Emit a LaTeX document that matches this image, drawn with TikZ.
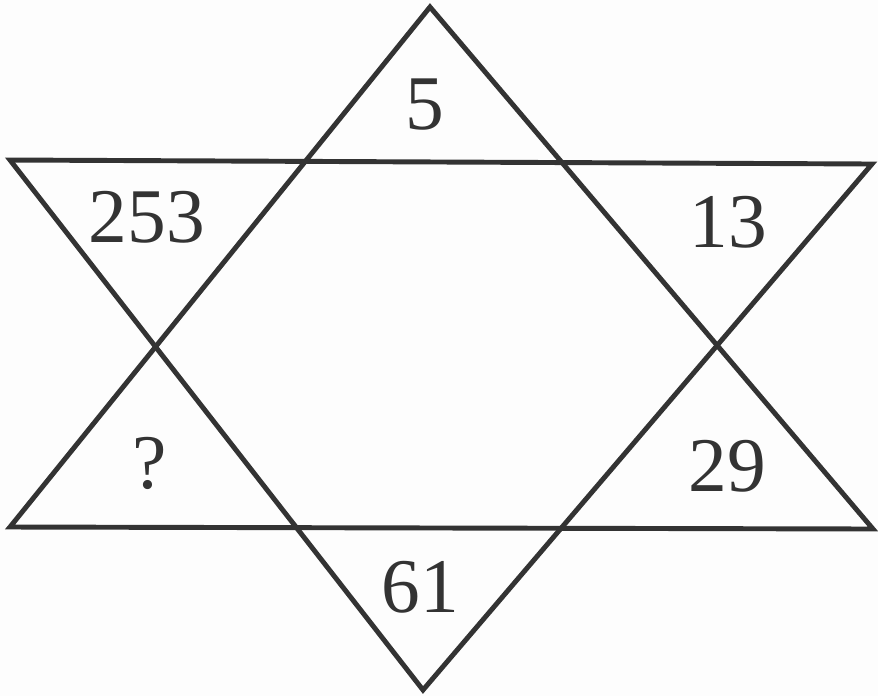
\documentclass[tikz,border=0pt]{standalone}
\usepackage{fontspec}
\setmainfont{Liberation Serif}
\usepackage{tikz}
\usetikzlibrary{calc}
\definecolor{my_ink}{HTML}{333333}
\definecolor{my_paper}{HTML}{FDFDFD}

\begin{document}
\begin{tikzpicture}[
    x=0.01cm, y=-0.01cm,
    side/.style={my_ink, line width=1.4pt, line join=miter},
    num/.style={my_ink, font=\fontsize{22}{24}\selectfont, inner sep=0pt}
]
\useasboundingbox[fill=my_paper] (0,0) rectangle (878,696);

% Upward triangle: apex at top, base at the bottom line
\coordinate (Top) at (430,7);
\coordinate (BL) at (10,527);
\coordinate (BR) at (873,529);

% Downward triangle: base at the top line, apex at the bottom
\coordinate (TL) at (10,160);
\coordinate (TR) at (872,164);
\coordinate (Bot) at (423,690);

\draw[side] (Top) -- (BR) -- (BL) -- cycle;
\draw[side] (TL) -- (TR) -- (Bot) -- cycle;

% Numbers in the six points of the star
\node[num] (top) at (425,105) {5};
\node[num] (upleft) at (147,217) {253};
\node[num] (upright) at (728,222) {13};
\node[num] (lowleft) at (150,463) {?};
\node[num] (lowright) at (727,466) {29};
\node[num] (bottom) at (420,587) {61};

\end{tikzpicture}
\end{document}
